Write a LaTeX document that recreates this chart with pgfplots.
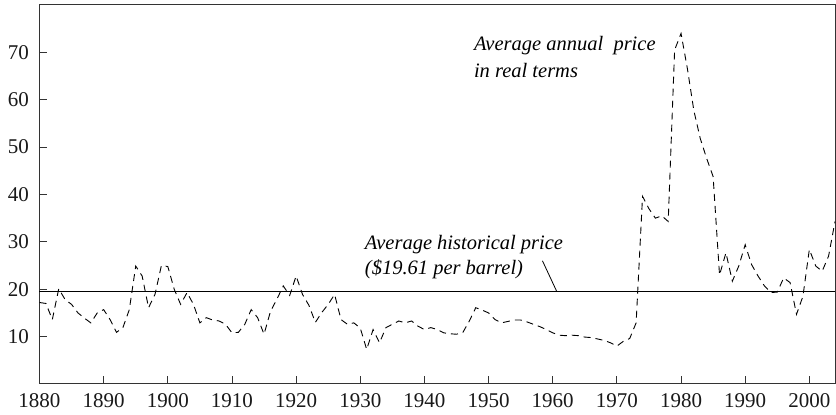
\documentclass[border=0pt]{standalone}
\usepackage{pgfplots}
\pgfplotsset{compat=1.18}
\usetikzlibrary{calc}
\usepackage{fontspec}
\setmainfont{Liberation Serif}
\pgfplotstableread{
year price
1880 17.2
1881 17.0
1882 13.6
1883 20.1
1884 17.8
1885 16.8
1886 15.0
1887 13.9
1888 12.9
1889 15.0
1890 15.7
1891 13.6
1892 10.9
1893 11.9
1894 15.7
1895 24.9
1896 22.8
1897 16.1
1898 18.9
1899 25.0
1900 24.8
1901 20.0
1902 16.8
1903 19.3
1904 16.8
1905 12.9
1906 14.0
1907 13.5
1908 13.3
1909 12.6
1910 10.8
1911 10.9
1912 12.6
1913 15.7
1914 14.0
1915 10.5
1916 15.3
1917 17.9
1918 20.7
1919 18.7
1920 22.8
1921 18.9
1922 16.6
1923 13.0
1924 15.1
1925 16.8
1926 18.9
1927 13.6
1928 12.6
1929 12.9
1930 11.8
1931 7.3
1932 11.5
1933 8.7
1934 11.9
1935 12.6
1936 13.3
1937 12.9
1938 13.3
1939 12.2
1940 11.5
1941 11.9
1942 11.5
1943 10.8
1944 10.6
1945 10.5
1946 10.9
1947 13.3
1948 16.1
1949 15.6
1950 15.0
1951 13.6
1952 12.9
1953 13.2
1954 13.5
1955 13.5
1956 13.1
1957 12.6
1958 12.1
1959 11.5
1960 10.8
1961 10.3
1962 10.2
1963 10.3
1964 10.2
1965 9.9
1966 9.8
1967 9.5
1968 9.2
1969 8.7
1970 8.0
1971 9.0
1972 9.6
1973 12.9
1974 39.6
1975 37.0
1976 35.0
1977 35.5
1978 34.3
1979 70.5
1980 74.0
1981 66.5
1982 57.7
1983 51.8
1984 47.6
1985 43.8
1986 23.0
1987 27.7
1988 21.7
1989 24.9
1990 29.4
1991 25.2
1992 22.8
1993 20.7
1994 19.3
1995 19.4
1996 22.4
1997 21.4
1998 14.7
1999 18.5
2000 28.4
2001 24.9
2002 23.8
2003 27.0
2004 34.3
}\oil
\begin{document}
\begin{tikzpicture}
\begin{axis}[
  scale only axis,
  width=795.5pt, height=379pt,
  xmin=1880, xmax=2004, ymin=0, ymax=80,
  xtick={1880,1890,...,2000},
  ytick={10,20,...,70},
  tick align=inside,
  xtick pos=bottom, ytick pos=left,
  major tick length=8pt,
  tick style={draw=black!80, line width=0.9pt},
  axis line style={draw=black!80, line width=1pt},
  /pgf/number format/assume math mode=true,
  xticklabel={\pgfmathprintnumber[1000 sep={}]{\tick}},
  ticklabel style={font=\fontsize{21}{24}\selectfont, text=black!90},
  xticklabel style={yshift=-6pt},
  yticklabel style={xshift=-7pt},
  clip=false,
]
\addplot[black, line width=0.9pt, dash pattern=on 7pt off 5pt] table[x=year,y=price] {\oil};
\addplot[black, line width=1pt] coordinates {(1880,19.61) (2004,19.61)};
\draw[black, line width=0.8pt] (axis cs:1958.4,26.0) -- (axis cs:1960.6,19.61);
\node[anchor=base west, inner sep=0pt, font=\fontsize{20.5}{24}\selectfont\itshape] at (axis cs:1947.7,70.3) {Average annual\ \ price};
\node[anchor=base west, inner sep=0pt, font=\fontsize{20.5}{24}\selectfont\itshape] at (axis cs:1947.7,64.7) {in real terms};
\node[anchor=base west, inner sep=0pt, font=\fontsize{20.5}{24}\selectfont\itshape] at (axis cs:1930.7,28.4) {Average historical price};
\node[anchor=base west, inner sep=0pt, font=\fontsize{20.5}{24}\selectfont\itshape] at (axis cs:1930.7,23.1) {(\$19.61 per barrel)};
\end{axis}
\pgfresetboundingbox
\path (current axis.south west) ++(-39.5pt,-31pt) rectangle ($(current axis.north east)+(1pt,5pt)$);
\end{tikzpicture}
\end{document}
